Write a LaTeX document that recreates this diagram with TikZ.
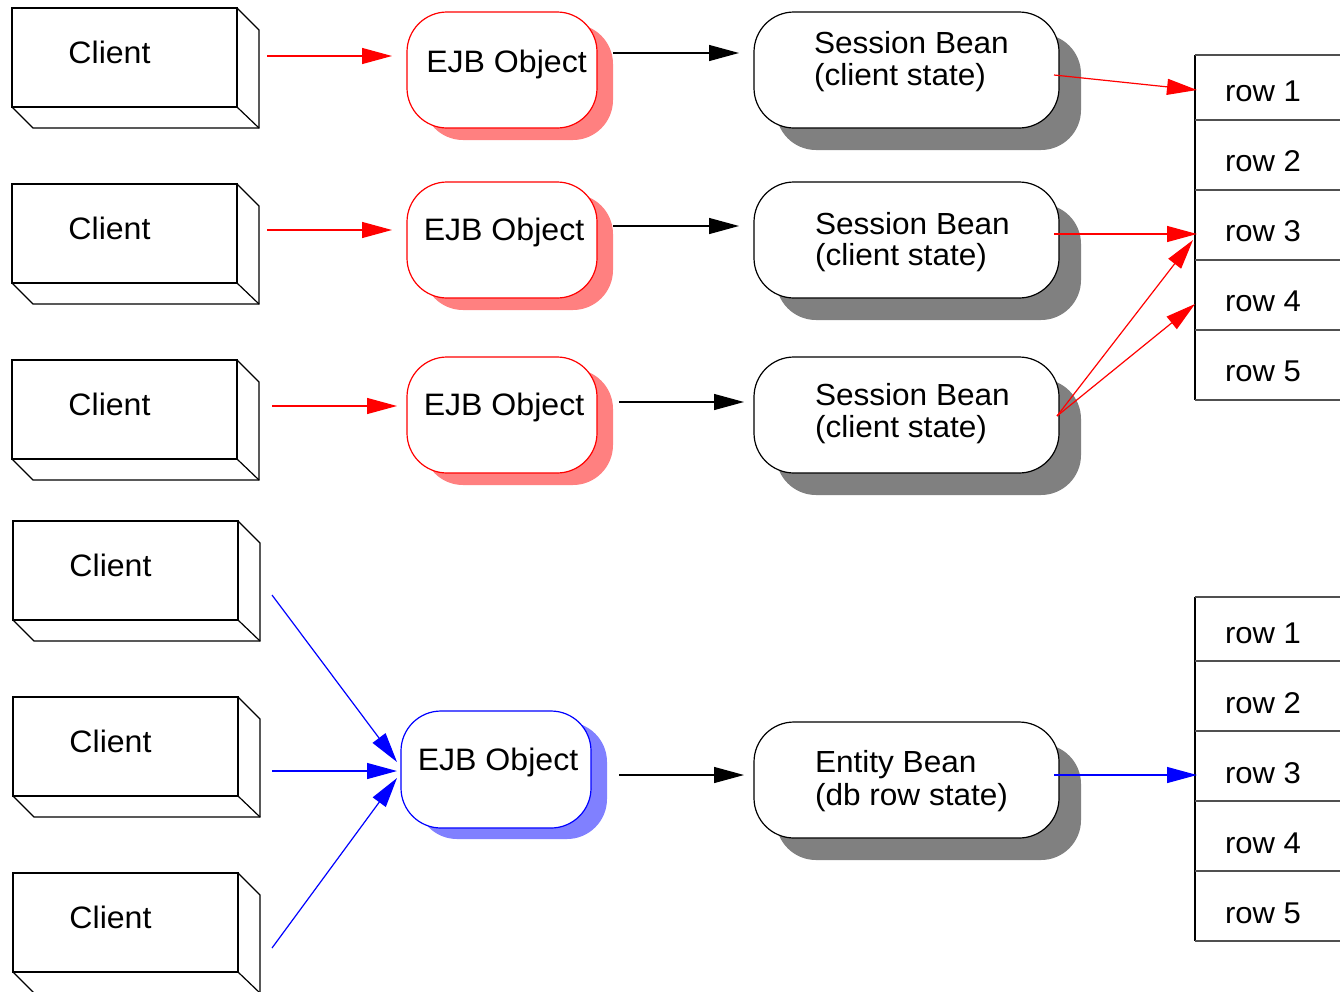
\documentclass[tikz,border=0pt]{standalone}
\usepackage{fontspec}
\setmainfont{Liberation Sans}[FakeStretch=1.035]
\usetikzlibrary{arrows.meta,calc,shadows}
\definecolor{redshadow}{HTML}{FF8080}
\definecolor{blueshadow}{HTML}{8080FF}
\definecolor{grayshadow}{HTML}{808080}
\definecolor{rowline}{HTML}{505050}
\definecolor{myred}{HTML}{FF0000}
\definecolor{myblue}{HTML}{0000FF}
\begin{document}
\begin{tikzpicture}[x=1pt,y=-1pt,
  boxline/.style={line width=1.2pt, black, line join=miter},
  clientbox/.style={draw, line width=1.2pt, minimum width=225pt, minimum height=99pt, inner sep=0pt, outer sep=0pt, anchor=north west},
  lbl/.style={inner sep=0pt, outer sep=0pt, font=\fontsize{31}{37}\selectfont, anchor=base},
  beantext/.style={inner sep=0pt, outer sep=0pt, font=\fontsize{30.5}{32}\selectfont, anchor=base west},
  rowtext/.style={inner sep=0pt, outer sep=0pt, font=\fontsize{30}{36}\selectfont, anchor=base west},
  pill/.style={draw, fill=white, rounded corners=40pt, line width=1.2pt, inner sep=0pt, outer sep=0pt, anchor=north west},
  ejbred/.style={pill, draw=myred, minimum width=190pt, minimum height=116pt,
    drop shadow={shadow xshift=16pt, shadow yshift=-12pt, fill=redshadow, opacity=1}},
  ejbblue/.style={pill, draw=myblue, minimum width=190pt, minimum height=117pt,
    drop shadow={shadow xshift=16pt, shadow yshift=-11pt, fill=blueshadow, opacity=1}},
  bean/.style={pill, draw=black, minimum width=305pt, minimum height=116pt,
    drop shadow={shadow xshift=22pt, shadow yshift=-22pt, fill=grayshadow, opacity=1}},
  tip/.style={-{Triangle[length=30pt,width=16pt]}},
  redarr/.style={tip, line width=1.2pt, myred},
  bluearr/.style={tip, line width=1.2pt, myblue},
  blackarr/.style={tip, line width=1.3pt, black},
  vline/.style={line width=1.2pt, black},
  hline/.style={line width=1.8pt, rowline},
]
\useasboundingbox (0,0) rectangle (1340,991);

% Clients
\foreach \n/\x/\y in {1/12/8, 2/12/184, 3/12/360, 4/13/521, 5/13/697, 6/13/873} {
  \node[clientbox] (c\n) at (\x,\y) {};
  \draw[boxline] (c\n.north east) -- ++(22,22) |- ($(c\n.south west)+(21,21)$) -- (c\n.south west);
  \draw[boxline] (c\n.south east) -- ++(22,21);
  \node[lbl] (ct\n) at (\x+97.5,\y+55) {Client};
}

% EJB objects
\node[ejbred] (e1) at (407,12) {};
\node[lbl] (et1) at (506.5,72) {EJB Object};
\node[ejbred] (e2) at (407,182) {};
\node[lbl] (et2) at (504,240) {EJB Object};
\node[ejbred] (e3) at (407,357) {};
\node[lbl] (et3) at (504,415.5) {EJB Object};
\node[ejbblue] (e4) at (401,711) {};
\node[lbl] (et4) at (498,770) {EJB Object};

% Beans
\node[bean] (b1) at (754,12) {};
\node[beantext] (b1a) at (814,53) {Session Bean};
\node[beantext] (b1b) at (814,85) {(client state)};
\node[bean] (b2) at (754,182) {};
\node[beantext] (b2a) at (815,234) {Session Bean};
\node[beantext] (b2b) at (815,265) {(client state)};
\node[bean] (b3) at (754,357) {};
\node[beantext] (b3a) at (815,405) {Session Bean};
\node[beantext] (b3b) at (815,437) {(client state)};
\node[bean] (b4) at (754,722) {};
\node[beantext] (b4a) at (815,772) {Entity Bean};
\node[beantext] (b4b) at (815,805) {(db row state)};

% Tables
\draw[vline] (1195,55) -- (1195,400);
\foreach \y in {55,120,190,260,330,400} { \draw[hline] (1195,\y) -- (1340,\y); }
\foreach \n/\y in {1/101,2/171,3/241,4/311,5/381} { \node[rowtext] (r\n) at (1225,\y) {row \n}; }
\draw[vline] (1195,597) -- (1195,941);
\foreach \y in {597,661,731,801,871,941} { \draw[hline] (1195,\y) -- (1340,\y); }
\foreach \n/\y in {1/643,2/713,3/783,4/853,5/923} { \node[rowtext] (s\n) at (1225,\y) {row \n}; }

% Connector end points
\coordinate (p1) at (267,56);   \coordinate (q1) at (392,56);
\coordinate (p2) at (267,230);  \coordinate (q2) at (392,230);
\coordinate (p3) at (272,406);  \coordinate (q3) at (397,406);
\coordinate (k1) at (613,53);   \coordinate (l1) at (739,53);
\coordinate (k2) at (613,226);  \coordinate (l2) at (739,226);
\coordinate (k3) at (619,402);  \coordinate (l3) at (744,402);
\coordinate (k4) at (619,775);  \coordinate (l4) at (744,775);
\coordinate (m1) at (1054,75);  \coordinate (n1) at (1197,90);
\coordinate (m2) at (1054,234); \coordinate (n2) at (1197,234);
\coordinate (m3) at (1057,416); \coordinate (n3) at (1193,240);
\coordinate (n4) at (1195,304);
\coordinate (u1) at (272,595);  \coordinate (v1) at (397,762);
\coordinate (u2) at (272,771);  \coordinate (v2) at (397,771);
\coordinate (u3) at (272,948);  \coordinate (v3) at (397,778);
\coordinate (m4) at (1054,775); \coordinate (n5) at (1197,775);

% Connectors
\draw[redarr] (p1) -- (q1);
\draw[redarr] (p2) -- (q2);
\draw[redarr] (p3) -- (q3);
\draw[blackarr] (k1) -- (l1);
\draw[blackarr] (k2) -- (l2);
\draw[blackarr] (k3) -- (l3);
\draw[blackarr] (k4) -- (l4);
\draw[redarr] (m1) -- (n1);
\draw[redarr] (m2) -- (n2);
\draw[redarr] (m3) -- (n3);
\draw[redarr] (m3) -- (n4);
\draw[bluearr] (u1) -- (v1);
\draw[bluearr] (u2) -- (v2);
\draw[bluearr] (u3) -- (v3);
\draw[bluearr] (m4) -- (n5);
\end{tikzpicture}
\end{document}
